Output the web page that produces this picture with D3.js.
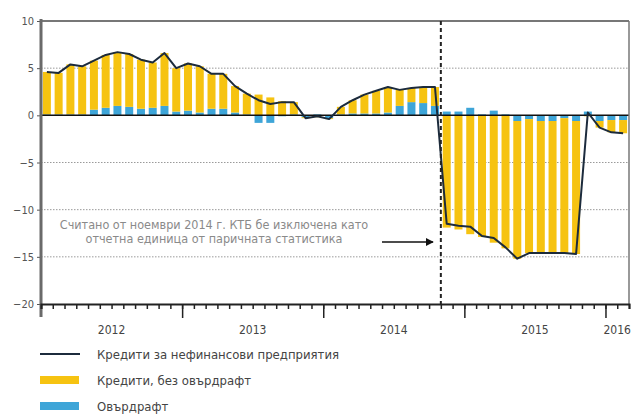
<!DOCTYPE html>
<html>
<head>
<meta charset="utf-8">
<script src="https://cdn.jsdelivr.net/npm/d3@7"></script>
<style>
  body { margin: 0; background: #fff; }
  svg text { font-family: "Liberation Sans Narrow", "DejaVu Sans Condensed", "Liberation Sans", sans-serif; }
</style>
</head>
<body>
<div id="chart"></div>
<script>
// Monthly growth of loans, Jan 2012 - Feb 2016 (%)

// Year labels shown under the axis
let years = ["2012", "2013", "2014", "2015", "2016"];

// Total: loans to non-financial corporations (line)
let totalLoans = [4.6, 4.5, 5.4, 5.2, 5.8, 6.4, 6.7, 6.5, 5.9, 5.6, 6.6, 5.0,
	5.5, 5.2, 4.4, 4.4, 3.1, 2.3, 1.6, 1.2, 1.4, 1.4, -0.3, -0.1,
	-0.4, 0.9, 1.6, 2.2, 2.6, 3.0, 2.7, 2.9, 3.0, 3.0, -11.5, -11.7,
	-11.8, -12.8, -13.0, -14.0, -15.2, -14.6, -14.6, -14.6, -14.6, -14.7, 0.3, -1.3,
	-1.8, -1.9];

// Loans excluding overdraft (yellow bars)
let loansNoOverdraft = [4.5, 4.4, 5.3, 5.1, 5.2, 5.6, 5.7, 5.6, 5.2, 4.8, 5.6, 4.6,
	5.0, 4.9, 3.7, 3.7, 2.8, 2.2, 2.2, 1.9, 1.5, 1.3, -0.1, -0.2,
	-0.1, 0.8, 1.4, 2.0, 2.4, 2.7, 1.7, 1.5, 1.7, 2.0, -11.9, -12.1,
	-12.6, -12.9, -13.5, -14.1, -14.6, -14.2, -14.0, -14.0, -14.3, -14.1, -0.1, -0.7,
	-1.3, -1.4];

// Overdraft (blue bars)
let overdraft = [0.1, 0.1, 0.1, 0.1, 0.6, 0.8, 1.0, 0.9, 0.7, 0.8, 1.0, 0.4,
	0.5, 0.3, 0.7, 0.7, 0.3, 0.1, -0.8, -0.8, -0.1, 0.1, -0.2, 0.1,
	-0.3, 0.1, 0.2, 0.2, 0.2, 0.3, 1.0, 1.4, 1.3, 1.0, 0.4, 0.4,
	0.8, 0.1, 0.5, 0.1, -0.6, -0.4, -0.6, -0.6, -0.3, -0.6, 0.4, -0.6,
	-0.5, -0.5];

let yTicks = [10, 5, 0, -5, -10, -15, -20];
let gridValues = [5, -5, -10, -15];
let breakMonth = 34; // November 2014

let legendItems = [
	{ label: "Кредити за нефинансови предприятия", type: "line", color: "#1c2b3c" },
	{ label: "Кредити, без овърдрафт", type: "rect", color: "#f6c311" },
	{ label: "Овърдрафт", type: "rect", color: "#3ea5d8" }
];

let noteLines = ["Считано от ноември 2014 г. КТБ бе изключена като",
	"отчетна единица от паричната статистика"];

// --------------------------------

let width = 632, height = 415;
let plotLeft = 41, plotRight = 629, plotTop = 21, plotBottom = 304;

let svg = d3.select("#chart").append("svg")
	.attr("width", width)
	.attr("height", height);

// Build the table for stacking
let table = totalLoans.map((t, i) => ({ i: i, overdraft: overdraft[i], loans: loansNoOverdraft[i] }));

let x = d3.scaleBand()
	.domain(table.map(d => d.i))
	.range([plotLeft, plotRight])
	.paddingInner(0.32)
	.paddingOuter(0.16);

// Continuous month scale for ticks and the break line
let xt = d3.scaleLinear().domain([0, totalLoans.length]).range([plotLeft, plotRight]);

let y = d3.scaleLinear().domain([-20, 10]).range([plotBottom, plotTop]);

// Dotted grid lines
svg.append("g").selectAll("line")
	.data(gridValues)
	.enter().append("line")
	.attr("x1", plotLeft).attr("x2", plotRight)
	.attr("y1", d => y(d)).attr("y2", d => y(d))
	.attr("stroke", "#9a9a9a")
	.attr("stroke-width", 1)
	.attr("stroke-dasharray", "1.5,1.5");

// Stacked bars, overdraft next to zero
let stack = d3.stack()
	.keys(["overdraft", "loans"])
	.offset(d3.stackOffsetDiverging);

let colors = { overdraft: "#3ea5d8", loans: "#f6c311" };

svg.append("g").selectAll("g")
	.data(stack(table))
	.enter().append("g")
	.attr("fill", d => colors[d.key])
	.selectAll("rect")
	.data(d => d)
	.enter().append("rect")
	.attr("x", d => x(d.data.i))
	.attr("width", x.bandwidth())
	.attr("y", d => y(Math.max(d[0], d[1])))
	.attr("height", d => Math.abs(y(d[0]) - y(d[1])));

// Zero line
svg.append("line")
	.attr("x1", plotLeft).attr("x2", plotRight)
	.attr("y1", y(0)).attr("y2", y(0))
	.attr("stroke", "#111")
	.attr("stroke-width", 1.5);

// Total line
let line = d3.line()
	.x((d, i) => x(i) + x.bandwidth() / 2)
	.y(d => y(d));

svg.append("path")
	.datum(totalLoans)
	.attr("d", line)
	.attr("fill", "none")
	.attr("stroke", "#1c2b3c")
	.attr("stroke-width", 2)
	.attr("stroke-linejoin", "round");

// Frame: top and right
svg.append("line")
	.attr("x1", plotLeft).attr("x2", plotRight)
	.attr("y1", plotTop).attr("y2", plotTop)
	.attr("stroke", "#777").attr("stroke-width", 2);
svg.append("line")
	.attr("x1", plotRight).attr("x2", plotRight)
	.attr("y1", plotTop).attr("y2", plotBottom)
	.attr("stroke", "#777").attr("stroke-width", 1.5);

// Break line at November 2014
svg.append("line")
	.attr("x1", xt(breakMonth)).attr("x2", xt(breakMonth))
	.attr("y1", plotTop).attr("y2", plotBottom)
	.attr("stroke", "#222")
	.attr("stroke-width", 2)
	.attr("stroke-dasharray", "4,3");

// Y axis
let yAxis = svg.append("g")
	.attr("transform", "translate(" + plotLeft + ",0)")
	.call(d3.axisLeft(y).tickValues(yTicks).tickSize(4).tickPadding(3).tickFormat(d3.format("d")));
yAxis.select(".domain").remove();
yAxis.selectAll("line").attr("stroke", "#555");
yAxis.selectAll("text").attr("fill", "#555").style("font-size", "11px");
svg.append("line")
	.attr("x1", plotLeft).attr("x2", plotLeft)
	.attr("y1", plotTop - 2).attr("y2", plotBottom + 13)
	.attr("stroke", "#6a6a6a").attr("stroke-width", 3);

// X axis: month ticks and year ticks
let xMinor = svg.append("g")
	.attr("transform", "translate(0," + plotBottom + ")")
	.call(d3.axisBottom(xt).tickValues(d3.range(0, totalLoans.length + 1)).tickSize(5).tickFormat(""));
xMinor.select(".domain").attr("stroke", "#222").attr("stroke-width", 2);
xMinor.selectAll("line").attr("stroke", "#222").attr("stroke-width", 1.5);

let xMajor = svg.append("g")
	.attr("transform", "translate(0," + plotBottom + ")")
	.call(d3.axisBottom(xt).tickValues([12, 24, 36, 48]).tickSize(14).tickFormat(""));
xMajor.select(".domain").remove();
xMajor.selectAll("line").attr("stroke", "#222").attr("stroke-width", 1.5);

// Year labels
svg.append("g").selectAll("text")
	.data(years)
	.enter().append("text")
	.attr("x", (d, i) => xt(Math.min(i * 12 + 6, (i * 12 + totalLoans.length) / 2)))
	.attr("y", 334)
	.attr("text-anchor", "middle")
	.attr("fill", "#444")
	.style("font-size", "12px")
	.text(d => d);

// Annotation
svg.append("g").selectAll("text")
	.data(noteLines)
	.enter().append("text")
	.attr("x", 214)
	.attr("y", (d, i) => 229 + i * 14)
	.attr("text-anchor", "middle")
	.attr("fill", "#8a8a8a")
	.style("font-size", "12.5px")
	.text(d => d);

svg.append("defs").append("marker")
	.attr("id", "arrow")
	.attr("viewBox", "0 0 10 10")
	.attr("refX", 9).attr("refY", 5)
	.attr("markerWidth", 5).attr("markerHeight", 5)
	.attr("orient", "auto")
	.append("path")
	.attr("d", "M0,0L10,5L0,10z")
	.attr("fill", "#111");

svg.append("line")
	.attr("x1", 382).attr("x2", 433)
	.attr("y1", 242).attr("y2", 242)
	.attr("stroke", "#111")
	.attr("stroke-width", 1.6)
	.attr("marker-end", "url(#arrow)");

// Legend
let legend = svg.append("g").selectAll("g")
	.data(legendItems)
	.enter().append("g")
	.attr("transform", (d, i) => "translate(40," + (354 + i * 26) + ")");

legend.filter(d => d.type == "line").append("line")
	.attr("x1", 0).attr("x2", 40)
	.attr("stroke", d => d.color)
	.attr("stroke-width", 2);

legend.filter(d => d.type == "rect").append("rect")
	.attr("x", 0).attr("y", -4)
	.attr("width", 39).attr("height", 8)
	.attr("fill", d => d.color);

legend.append("text")
	.attr("x", 57)
	.attr("y", 4.5)
	.attr("fill", "#444")
	.style("font-size", "13px")
	.text(d => d.label);
</script>
</body>
</html>
